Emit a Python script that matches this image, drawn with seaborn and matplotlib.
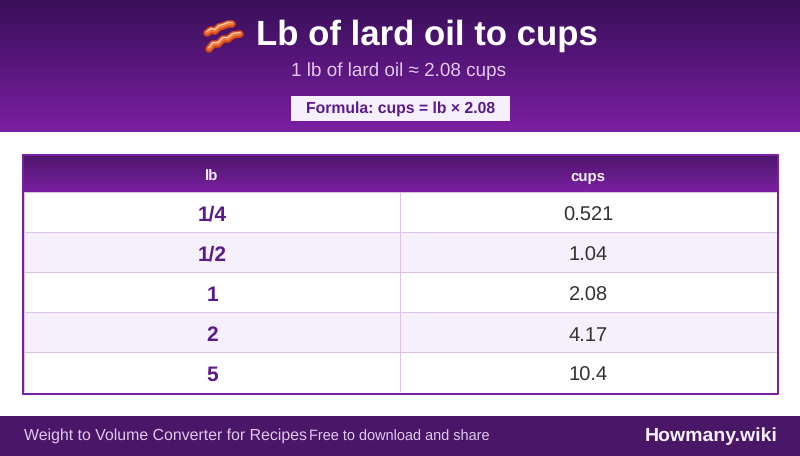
import numpy as np
import pandas as pd
import matplotlib
matplotlib.use('Agg')
import matplotlib.pyplot as plt
from matplotlib.colors import LinearSegmentedColormap, ListedColormap
import seaborn as sns

# table data
lb_values = ['1/4', '1/2', '1', '2', '5']
cups_values = ['0.521', '1.04', '2.08', '4.17', '10.4']
col_names = ['lb', 'cups']

title_text = 'Lb of lard oil to cups'
subtitle_text = '1 lb of lard oil ≈ 2.08 cups'
formula_text = 'Formula: cups = lb × 2.08'
footer_left = 'Weight to Volume Converter for Recipes'
footer_mid = 'Free to download and share'
footer_right = 'Howmany.wiki'

sns.set_theme(style='white')
plt.rcParams['font.family'] = ['Liberation Sans', 'DejaVu Sans']
plt.rcParams['text.hinting'] = 'none'

purple = '#7b1fa2'
dark = '#4a1668'
text_purple = '#5b1a8b'
pale = '#f5f0fb'
line = '#dcc3ea'

# 4.56 * 100 truncates to 455 px, so nudge it
fig = plt.figure(figsize=(8, 4.5601), dpi=100)
bg = fig.add_axes([0, 0, 1, 1])
bg.axis('off')


def gradient(x0, x1, y0, y1, top, bottom):
    cmap = LinearSegmentedColormap.from_list('g', [top, bottom])
    grad = np.linspace(0, 1, 256).reshape(-1, 1)
    bg.imshow(grad, cmap=cmap, extent=[x0, x1, y1, y0], aspect='auto', zorder=1)


# header band
gradient(0, 800, 0, 132, '#380f58', purple)

# bacon emoji, there is no emoji font so it is two wavy strips
for xs, ys in [([207, 211, 215, 219, 223, 228, 232], [33, 30, 31, 27, 26, 24, 24]),
               ([209, 213, 218, 223, 228, 233, 240], [49, 44, 44, 39, 39, 35, 34])]:
    bg.plot(xs, ys, color='#d2491c', lw=5.4, solid_capstyle='round', zorder=3)
    bg.plot(xs, np.array(ys) - 0.5, color='#f2793f', lw=3, solid_capstyle='round', zorder=4)
    bg.plot(xs, np.array(ys) - 1.5, color='#ffd9c2', lw=0.8, zorder=4)

bg.text(427, 36, title_text, color='white', fontsize=25, fontweight='bold',
        ha='center', va='center', zorder=5)
bg.text(399, 71, subtitle_text, color='#e1c8ee', fontsize=13.6,
        ha='center', va='center', zorder=5)
bg.fill_between([291, 510], 96, 121, color=pale, lw=0, zorder=4)
bg.text(400.5, 108.5, formula_text, color=text_purple, fontsize=11.35, fontweight='bold',
        ha='center', va='center', zorder=5)

# table header
gradient(24, 777, 155, 192, dark, purple)
bg.text(212, 175, col_names[0], color=pale, fontsize=10.8, fontweight='bold',
        ha='center', va='center_baseline', zorder=5)
bg.text(588, 175, col_names[1], color=pale, fontsize=10.8, fontweight='bold',
        ha='center', va='center_baseline', zorder=5)

# table body
table = pd.DataFrame({'lb': lb_values, 'cups': cups_values})
stripes = np.array([[i % 2, i % 2] for i in range(len(table))])
ax = fig.add_axes([24 / 800, 1 - 392.5 / 456, 752.5 / 800, 200 / 456], zorder=2)
sns.heatmap(stripes, ax=ax, cmap=ListedColormap(['white', pale]), cbar=False,
            annot=table.values, fmt='', linewidths=0.72, linecolor=line,
            xticklabels=False, yticklabels=False,
            annot_kws={'fontsize': 14.5, 'color': '#333333'})
for i, t in enumerate(ax.texts):
    t.set_va('center_baseline')
    t.set_y(t.get_position()[1] + 0.02)
    if i % 2 == 0:
        t.set_color(text_purple)
        t.set_fontweight('bold')
        t.set_fontsize(15)

# border and footer sit above the heatmap
bg.plot([23, 778, 778, 23, 23], [155, 155, 394, 394, 155], color=purple, lw=1.44, zorder=6)
bg.set_zorder(3)
bg.patch.set_alpha(0)

bg.fill_between([0, 800], 416, 456, color=dark, lw=0, zorder=2)
bg.text(24, 436, footer_left, color='#e1c8ee', fontsize=11.4, ha='left', va='center', zorder=5)
bg.text(309, 437, footer_mid, color='#e1c8ee', fontsize=10.45, ha='left', va='center', zorder=5)
bg.text(778, 436, footer_right, color=pale, fontsize=14, fontweight='bold',
        ha='right', va='center', zorder=5)

bg.set_xlim(0, 800)
bg.set_ylim(456, 0)

fig.savefig('out.png', dpi=100)
